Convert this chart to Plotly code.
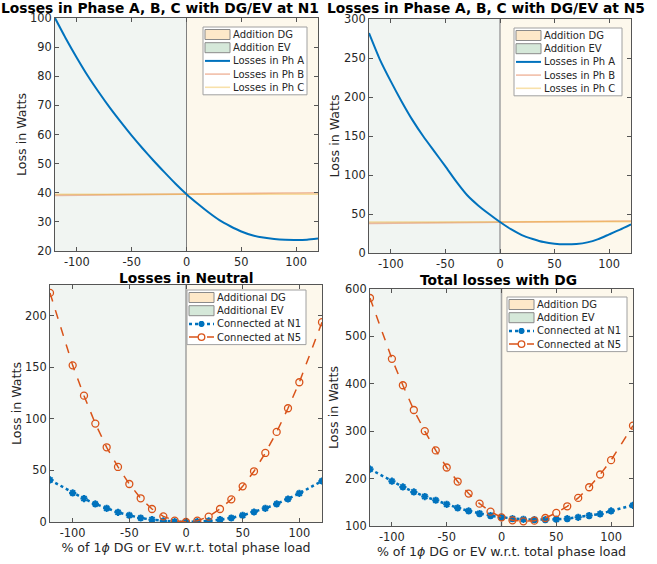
import plotly.graph_objects as go

W, H = 657, 564

# ---------------- data ----------------
x_phase = [-120, -110, -100, -90, -80, -70, -60, -50, -40, -30, -20, -10, 0,
           10, 20, 30, 40, 50, 60, 70, 80, 90, 100, 110, 120]
phA_N1 = [100.0, 92.9, 86.3, 80.1, 74.5, 69.2, 64.3, 59.6, 55.2, 51.0, 47.0, 43.1, 39.5,
          36.3, 33.3, 30.6, 28.5, 26.7, 25.4, 24.6, 24.1, 23.85, 23.8, 23.9, 24.3]
phB_N1 = [39.1, 39.15, 39.2, 39.25, 39.3, 39.35, 39.4, 39.4, 39.45, 39.5, 39.5, 39.55, 39.6,
          39.6, 39.65, 39.7, 39.7, 39.75, 39.8, 39.8, 39.85, 39.9, 39.9, 39.95, 40.0]
phC_N1 = [39.5, 39.5, 39.5, 39.5, 39.5, 39.5, 39.5, 39.5, 39.5, 39.5, 39.5, 39.5, 39.5,
          39.5, 39.5, 39.5, 39.5, 39.5, 39.5, 39.5, 39.5, 39.5, 39.5, 39.5, 39.5]
phA_N5 = [282.0, 248.0, 220.0, 194.0, 170.0, 149.0, 130.0, 111.0, 91.5, 74.0, 61.0, 50.0, 39.7,
          30.5, 23.0, 18.0, 14.0, 11.8, 11.1, 11.6, 13.6, 17.8, 23.9, 30.0, 36.7]
phB_N5 = [38.0, 38.2, 38.4, 38.6, 38.7, 38.8, 38.9, 39.0, 39.1, 39.2, 39.3, 39.4, 39.5,
          39.6, 39.7, 39.8, 39.9, 40.0, 40.1, 40.2, 40.4, 40.5, 40.6, 40.8, 41.0]
phC_N5 = [39.8, 39.8, 39.8, 39.8, 39.8, 39.8, 39.8, 39.8, 39.8, 39.8, 39.8, 39.8, 39.8,
          39.9, 39.9, 39.9, 39.9, 40.0, 40.0, 40.0, 40.0, 40.1, 40.1, 40.1, 40.2]

x_pct = [-120, -100, -90, -80, -70, -60, -50, -40, -30, -20, -10, 0,
         10, 20, 30, 40, 50, 60, 70, 80, 90, 100, 120]
neutral_N1 = [40.8, 28.2, 22.7, 17.5, 13.3, 9.4, 6.5, 3.9, 2.3, 1.0, 0.3, 0.0,
              0.3, 1.0, 2.3, 3.9, 6.5, 9.7, 13.3, 17.5, 22.3, 27.8, 39.8]
neutral_N5 = [222.3, 152.0, 122.6, 95.5, 72.5, 53.4, 36.9, 23.0, 12.6, 5.5, 1.3, 0.0,
              1.3, 5.2, 12.6, 22.0, 34.6, 49.2, 67.0, 87.4, 110.4, 135.6, 193.9]
total_N1 = [219.9, 194.5, 182.5, 171.9, 162.1, 154.3, 145.8, 138.1, 131.7, 126.1, 121.9, 118.3,
            115.5, 114.1, 113.4, 113.4, 114.1, 115.5, 118.3, 121.9, 125.4, 131.7, 143.7]
total_N5 = [581.0, 452.6, 396.9, 344.7, 300.3, 259.4, 223.4, 193.8, 168.4, 147.2, 130.3, 118.3,
            112.0, 109.9, 111.3, 116.9, 127.5, 141.6, 159.2, 181.8, 208.6, 238.9, 311.6]

titles = ["Losses in Phase A, B, C with DG/EV at N1",
          "Losses in Phase A, B, C with DG/EV at N5",
          "Losses in Neutral",
          "Total losses with DG"]
xtick_vals = [-100, -50, 0, 50, 100]
xtick_text = ["-100", "-50", "0", "50", "100"]
x_label = "% of 1<i>ϕ</i> DG or EV w.r.t. total phase load"
y_label = "Loss in Watts"

# ---------------- style ----------------
FONT = "DejaVu Sans"
TXT = "#262626"
BLUE = "#0072BD"
ORANGE = "#D95319"
PH_B = "rgba(217,83,25,0.38)"
PH_C = "rgba(237,177,32,0.38)"
EV_BG = "#f1f5f2"
DG_BG = "#fdf8ec"
EV_PATCH = "#d5e8d9"
DG_PATCH = "#fde8c9"
TICK_SIZE = 11.4
LABEL_SIZE = 12.6
TITLE_SIZE = 13.8
LEG_SIZE = 10

panels = [
    dict(px=(55, 318), py=(18, 251), yr=(20, 100), ytv=list(range(20, 101, 10)),
         leg=(203, 27, 307), title=(159.5, 8), zl=("#7f7f7f", 1), ystand=0,
         entries=[("dg", "Addition DG"), ("ev", "Addition EV"), ("A", "Losses in Ph A"),
                  ("B", "Losses in Ph B"), ("C", "Losses in Ph C")], xlabel=False),
    dict(px=(369, 631), py=(19, 253), yr=(0, 300), ytv=list(range(0, 301, 50)),
         leg=(514, 28, 622), title=(486, 8), zl=("#a6a6a6", 1.6), ystand=1,
         entries=[("dg", "Addition DG"), ("ev", "Addition EV"), ("A", "Losses in Ph A"),
                  ("B", "Losses in Ph B"), ("C", "Losses in Ph C")], xlabel=False),
    dict(px=(50, 322), py=(285, 522), yr=(0, 230), ytv=list(range(0, 201, 50)),
         leg=(187, 290, 306), title=(186, 278), zl=("#8c8c8c", 1.2), ystand=0,
         entries=[("dg", "Additional DG"), ("ev", "Additional EV"),
                  ("n1", "Connected at N1"), ("n5", "Connected at N5")], xlabel=True),
    dict(px=(370, 633), py=(289, 526), yr=(100, 600), ytv=list(range(100, 601, 100)),
         leg=(507, 297, 627), title=(498, 280), zl=("#a6a6a6", 1.6), ystand=3,
         entries=[("dg", "Addition DG"), ("ev", "Addition EV"),
                  ("n1", "Connected at N1"), ("n5", "Connected at N5")], xlabel=True),
]


def fx(px):
    return px / W


def fy(py):
    return 1 - py / H


fig = go.Figure()
shapes, annotations = [], []
layout = dict(width=W, height=H, margin=dict(l=0, r=0, t=0, b=0, autoexpand=False),
              paper_bgcolor="white", plot_bgcolor="white", showlegend=False,
              font=dict(family=FONT, size=TICK_SIZE, color=TXT))

for i, p in enumerate(panels):
    n = "" if i == 0 else str(i + 1)
    xa, ya = "x" + n, "y" + n
    xdom = [fx(p["px"][0]), fx(p["px"][1])]
    ydom = [fy(p["py"][1]), fy(p["py"][0])]
    layout["xaxis" + n] = dict(domain=xdom, range=[x_phase[0], x_phase[-1]], anchor=ya,
                               tickvals=xtick_vals, ticktext=xtick_text,
                               ticks="inside", ticklen=4, tickcolor="#555",
                               showline=True, linecolor="#555", linewidth=1, mirror="ticks",
                               showgrid=False, zeroline=False,
                               tickfont=dict(size=TICK_SIZE, color=TXT),
                               title=dict(text=x_label if p["xlabel"] else "",
                                          font=dict(size=LABEL_SIZE, color=TXT), standoff=2))
    layout["yaxis" + n] = dict(domain=ydom, range=list(p["yr"]), anchor=xa,
                               tickvals=p["ytv"],
                               ticks="inside", ticklen=4, tickcolor="#555",
                               showline=True, linecolor="#555", linewidth=1, mirror="ticks",
                               showgrid=False, zeroline=False,
                               tickfont=dict(size=TICK_SIZE, color=TXT),
                               title=dict(text=y_label, font=dict(size=LABEL_SIZE, color=TXT),
                                          standoff=p["ystand"]))
    # background regions (EV: negative side, DG: positive side)
    shapes.append(dict(type="rect", xref=xa, yref=ya + " domain", x0=x_phase[0], x1=0,
                       y0=0, y1=1, fillcolor=EV_BG, line=dict(width=0), layer="below"))
    shapes.append(dict(type="rect", xref=xa, yref=ya + " domain", x0=0, x1=x_phase[-1],
                       y0=0, y1=1, fillcolor=DG_BG, line=dict(width=0), layer="below"))
    shapes.append(dict(type="line", xref=xa, yref=ya + " domain", x0=0, x1=0, y0=0, y1=1,
                       line=dict(color=p["zl"][0], width=p["zl"][1]), layer="below"))
    # title
    annotations.append(dict(text="<b>" + titles[i] + "</b>", xref="paper", yref="paper",
                            x=fx(p["title"][0]), y=fy(p["title"][1]),
                            xanchor="center", yanchor="middle", showarrow=False,
                            font=dict(size=TITLE_SIZE, color="#000")))

    # data traces
    if i < 2:
        A, B, C = (phA_N1, phB_N1, phC_N1) if i == 0 else (phA_N5, phB_N5, phC_N5)
        fig.add_trace(go.Scatter(x=x_phase, y=B, xaxis=xa, yaxis=ya, name="Losses in Ph B",
                                 mode="lines", line=dict(color=PH_B, width=1.6)))
        fig.add_trace(go.Scatter(x=x_phase, y=C, xaxis=xa, yaxis=ya, name="Losses in Ph C",
                                 mode="lines", line=dict(color=PH_C, width=1.6)))
        fig.add_trace(go.Scatter(x=x_phase, y=A, xaxis=xa, yaxis=ya, name="Losses in Ph A",
                                 mode="lines",
                                 line=dict(color=BLUE, width=2, shape="spline", smoothing=0.5)))
    else:
        Y1, Y5 = (neutral_N1, neutral_N5) if i == 2 else (total_N1, total_N5)
        fig.add_trace(go.Scatter(x=x_pct, y=Y1, xaxis=xa, yaxis=ya, name="Connected at N1",
                                 mode="lines+markers",
                                 line=dict(color=BLUE, width=2.5, dash="dot"),
                                 marker=dict(symbol="asterisk-open", size=6,
                                             line=dict(color=BLUE, width=2))))
        fig.add_trace(go.Scatter(x=x_pct, y=Y5, xaxis=xa, yaxis=ya, name="Connected at N5",
                                 mode="lines+markers",
                                 line=dict(color=ORANGE, width=1.5, dash="dash"),
                                 marker=dict(symbol="circle-open", size=7,
                                             line=dict(color=ORANGE, width=1.3))))

    # ---- legend box (drawn in paper coordinates) ----
    lx0, ly0, lx1 = p["leg"]
    nrow = len(p["entries"])
    ly1 = ly0 + 15 + 13.2 * (nrow - 1)
    shapes.append(dict(type="rect", xref="paper", yref="paper", x0=fx(lx0), x1=fx(lx1),
                       y0=fy(ly1), y1=fy(ly0), fillcolor="white",
                       line=dict(color="#a0a0a0", width=1), layer="above"))
    for k, (kind, label) in enumerate(p["entries"]):
        cy = ly0 + 7.5 + 13.2 * k
        sx0, sx1 = lx0 + 2, lx0 + 27
        if kind in ("dg", "ev"):
            shapes.append(dict(type="rect", xref="paper", yref="paper",
                               x0=fx(sx0), x1=fx(sx1), y0=fy(cy + 5), y1=fy(cy - 5),
                               fillcolor=DG_PATCH if kind == "dg" else EV_PATCH,
                               line=dict(color="#8a8a8a", width=1), layer="above"))
        elif kind in ("A", "B", "C"):
            col, wd = {"A": (BLUE, 2), "B": (PH_B, 1.6), "C": (PH_C, 1.6)}[kind]
            shapes.append(dict(type="line", xref="paper", yref="paper",
                               x0=fx(sx0), x1=fx(sx1), y0=fy(cy), y1=fy(cy),
                               line=dict(color=col, width=wd), layer="above"))
        elif kind == "n1":
            shapes.append(dict(type="line", xref="paper", yref="paper",
                               x0=fx(sx0), x1=fx(sx1), y0=fy(cy), y1=fy(cy),
                               line=dict(color=BLUE, width=2.5, dash="dot"), layer="above"))
            mx = (sx0 + sx1) / 2
            r = 3
            path = (f"M{fx(mx - r)},{fy(cy)} L{fx(mx + r)},{fy(cy)} "
                    f"M{fx(mx)},{fy(cy - r)} L{fx(mx)},{fy(cy + r)} "
                    f"M{fx(mx - 2.2)},{fy(cy - 2.2)} L{fx(mx + 2.2)},{fy(cy + 2.2)} "
                    f"M{fx(mx - 2.2)},{fy(cy + 2.2)} L{fx(mx + 2.2)},{fy(cy - 2.2)}")
            shapes.append(dict(type="path", xref="paper", yref="paper", path=path,
                               line=dict(color=BLUE, width=2), layer="above"))
        elif kind == "n5":
            shapes.append(dict(type="line", xref="paper", yref="paper",
                               x0=fx(sx0), x1=fx(sx1), y0=fy(cy), y1=fy(cy),
                               line=dict(color=ORANGE, width=1.5, dash="dash"), layer="above"))
            mx = (sx0 + sx1) / 2
            shapes.append(dict(type="circle", xref="paper", yref="paper",
                               x0=fx(mx - 3.3), x1=fx(mx + 3.3), y0=fy(cy + 3.3), y1=fy(cy - 3.3),
                               fillcolor="white", line=dict(color=ORANGE, width=1.3),
                               layer="above"))
        annotations.append(dict(text=label, xref="paper", yref="paper", x=fx(lx0 + 28),
                                y=fy(cy), xanchor="left", yanchor="middle", showarrow=False,
                                font=dict(size=LEG_SIZE, color=TXT)))

layout["shapes"] = shapes
layout["annotations"] = annotations
fig.update_layout(**layout)

# remove the browser's default 8px body margin so the 657x564 figure fills the window
reset_margin = "document.body.style.margin='0px';document.body.style.padding='0px';"
fig.write_html("out.html", post_script=reset_margin,
               config={"displayModeBar": False, "staticPlot": True})
